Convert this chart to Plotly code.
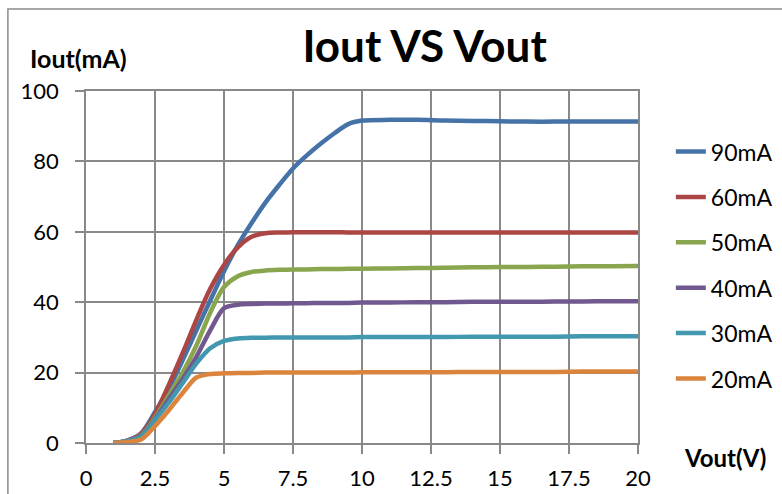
import plotly.graph_objects as go

# ---- data ----
vout = [1, 1.5, 2, 2.5, 3, 3.5, 4, 4.5, 5, 5.5, 6, 6.5, 7, 7.5, 8, 8.5, 9, 9.5,
        10, 11, 12, 13, 14, 15, 16, 17, 18, 19, 20]

i_90 = [0, 0.7, 2.8, 8.8, 15.5, 23.5, 32.0, 40.5, 48.8, 56.2, 62.5, 68.3, 73.3, 78.0,
        81.7, 85.0, 88.0, 90.6, 91.6, 91.8, 91.8, 91.6, 91.5, 91.4, 91.3, 91.3, 91.3, 91.3, 91.3]
i_60 = [0, 0.7, 2.6, 8.2, 16.5, 25.5, 35.0, 43.8, 50.6, 55.6, 58.6, 59.6, 59.8, 59.9,
        59.9, 59.9, 59.9, 59.8, 59.8, 59.8, 59.8, 59.8, 59.8, 59.8, 59.8, 59.8, 59.8, 59.8, 59.8]
i_50 = [0, 0.6, 2.2, 7.2, 13.5, 20.0, 27.7, 37.0, 44.3, 47.4, 48.6, 49.0, 49.2, 49.3,
        49.3, 49.4, 49.4, 49.5, 49.5, 49.6, 49.7, 49.8, 49.9, 50.0, 50.0, 50.1, 50.2, 50.2, 50.3]
i_40 = [0, 0.6, 2.0, 6.8, 12.5, 18.2, 24.5, 32.0, 38.3, 39.3, 39.5, 39.6, 39.6, 39.7,
        39.7, 39.8, 39.8, 39.8, 39.9, 39.9, 40.0, 40.0, 40.1, 40.1, 40.1, 40.2, 40.2, 40.3, 40.3]
i_30 = [0, 0.5, 1.8, 6.5, 11.5, 17.0, 22.6, 26.9, 29.0, 29.7, 29.9, 29.9, 30.0, 30.0,
        30.0, 30.0, 30.0, 30.0, 30.1, 30.1, 30.1, 30.1, 30.2, 30.2, 30.2, 30.2, 30.3, 30.3, 30.3]
i_20 = [0, 0.3, 1.0, 4.8, 9.3, 14.2, 18.6, 19.6, 19.8, 19.9, 19.9, 20.0, 20.0, 20.0,
        20.0, 20.0, 20.0, 20.0, 20.1, 20.1, 20.1, 20.1, 20.2, 20.2, 20.2, 20.2, 20.3, 20.3, 20.3]

series_names = ["90mA", "60mA", "50mA", "40mA", "30mA", "20mA"]
series_values = [i_90, i_60, i_50, i_40, i_30, i_20]
series_colors = ["#4572A7", "#AA4643", "#89A54E", "#71588F", "#4198AF", "#DB843D"]

x_tickvals = [0, 2.5, 5, 7.5, 10, 12.5, 15, 17.5, 20]
x_ticktext = ["0", "2.5", "5", "7.5", "10", "12.5", "15", "17.5", "20"]
y_tickvals = [0, 20, 40, 60, 80, 100]

GRID = "#898989"
FONT = "Lato"

fig = go.Figure()
for name, vals, col in zip(series_names, series_values, series_colors):
    fig.add_trace(go.Scatter(
        x=vout, y=vals, name=name, mode="lines", legendgroup=name,
        line=dict(color=col, width=4.5, shape="spline", smoothing=0.8),
    ))

fig.update_layout(
    width=782, height=494,
    margin=dict(l=86, r=144, t=91, b=51, autoexpand=False),
    paper_bgcolor="white", plot_bgcolor="white",
    font=dict(family=FONT, size=22, color="#000000"),
    title=dict(text="<b>Iout VS Vout</b>", font=dict(family=FONT, size=44, color="#000000"),
               x=0.543, xref="container", xanchor="center",
               y=0.905, yref="container", yanchor="middle"),
    showlegend=True,
    legend=dict(x=1.0595, xanchor="left", y=0.889, yanchor="top",
                font=dict(family=FONT, size=23, color="#000000"),
                tracegroupgap=12.5, bgcolor="rgba(0,0,0,0)", borderwidth=0),
)

fig.update_xaxes(
    range=[0, 20], tickvals=x_tickvals, ticktext=x_ticktext,
    showgrid=True, gridcolor=GRID, gridwidth=1.5,
    showline=True, linecolor=GRID, linewidth=1.5, mirror=True,
    ticks="outside", ticklen=9, tickwidth=1.5, tickcolor=GRID,
    zeroline=False, ticklabelstandoff=6, automargin=False,
    tickfont=dict(family=FONT, size=22, color="#000000"),
)
fig.update_yaxes(
    range=[0, 100], tickvals=y_tickvals,
    showgrid=True, gridcolor=GRID, gridwidth=1.5,
    showline=True, linecolor=GRID, linewidth=1.5, mirror=True,
    ticks="outside", ticklen=9, tickwidth=1.5, tickcolor=GRID,
    zeroline=False, ticklabelstandoff=12, automargin=False,
    tickfont=dict(family=FONT, size=22, color="#000000"),
)

# axis titles placed like the original (horizontal, at the axis ends)
fig.add_annotation(text="<b>Iout(mA)</b>", xref="paper", yref="paper",
                   x=-0.105, y=1.094, xanchor="left", yanchor="middle", showarrow=False,
                   font=dict(family=FONT, size=25, color="#000000"))
fig.add_annotation(text="<b>Vout(V)</b>", xref="paper", yref="paper",
                   x=1.079, y=-0.04, xanchor="left", yanchor="middle", showarrow=False,
                   font=dict(family=FONT, size=24, color="#000000"))

# chart-area border
fig.add_shape(type="rect", xref="paper", yref="paper",
              x0=-0.1415, x1=1.35, y0=-0.25, y1=1.233,
              line=dict(color="#8C8C8C", width=1.5), fillcolor="rgba(0,0,0,0)", layer="below")

fig.write_html("out.html", config={"displayModeBar": False},
               post_script="document.body.style.margin='0px';")
